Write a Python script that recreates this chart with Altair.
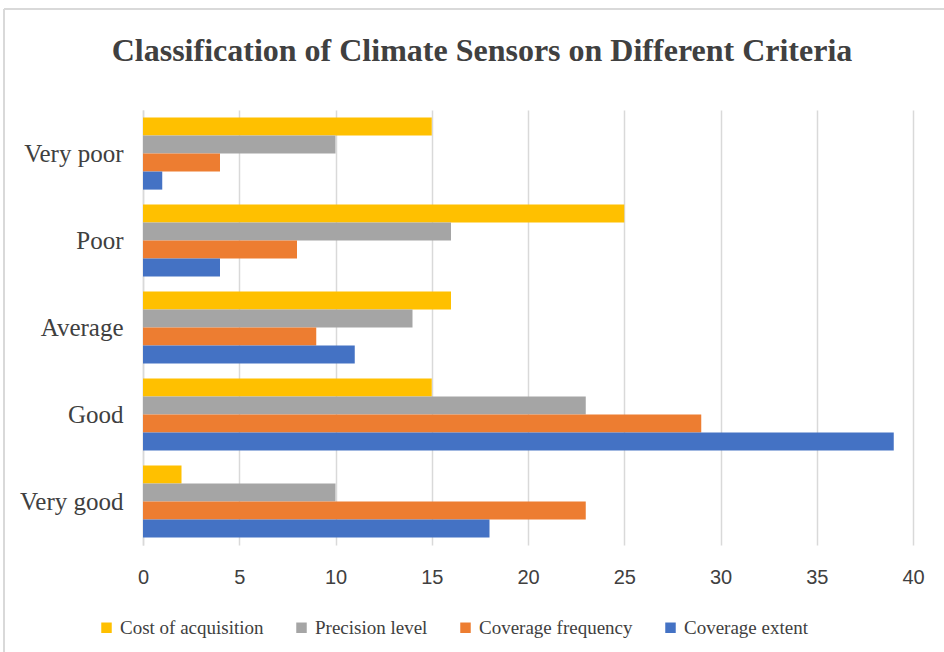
import altair as alt
import pandas as pd

categories = ["Very poor", "Poor", "Average", "Good", "Very good"]
series = ["Cost of acquisition", "Precision level", "Coverage frequency", "Coverage extent"]
cost = [15, 25, 16, 15, 2]
precision = [10, 16, 14, 23, 10]
frequency = [4, 8, 9, 29, 23]
extent = [1, 4, 11, 39, 18]
colors = ["#FFC000", "#A5A5A5", "#ED7D31", "#4472C4"]

rows = []
for s, vals in zip(series, [cost, precision, frequency, extent]):
    for c, v in zip(categories, vals):
        rows.append({"Category": c, "Series": s, "Value": v})
df = pd.DataFrame(rows)

bars = alt.Chart(df).mark_bar().encode(
    y=alt.Y("Category:N", sort=categories,
            scale=alt.Scale(paddingInner=0.17, paddingOuter=0.085),
            axis=alt.Axis(title=None, ticks=False, labelPadding=20, labelFont="Liberation Serif",
                          labelFontSize=25, labelColor="#404040", domain=True,
                          domainColor="#d9d9d9", domainWidth=1.5, grid=False)),
    yOffset=alt.YOffset("Series:N", sort=series, scale=alt.Scale(paddingInner=0, paddingOuter=0)),
    x=alt.X("Value:Q", scale=alt.Scale(domain=[0, 40], nice=False),
            axis=alt.Axis(title=None, values=list(range(0, 41, 5)), ticks=False, domain=False,
                          labelFlush=False,
                          labelPadding=22, labelFont="Liberation Sans", labelFontSize=20,
                          labelColor="#404040", gridColor="#d9d9d9", gridWidth=1.5)),
    color=alt.Color("Series:N", sort=series,
                    scale=alt.Scale(domain=series, range=colors),
                    legend=alt.Legend(title=None, orient="none", legendX=-46, legendY=508,
                                      direction="horizontal", columns=4, symbolType="square",
                                      symbolSize=110, symbolStrokeWidth=0, labelFont="Liberation Serif",
                                      labelFontSize=19, labelColor="#404040", columnPadding=28,
                                      labelOffset=4)),
)

frame_top = alt.Chart(df).mark_rule(color="#d9d9d9", strokeWidth=2).encode(
    x=alt.value(-139), x2=alt.value(801), y=alt.value(-101)
)
frame_left = alt.Chart(df).mark_rule(color="#d9d9d9", strokeWidth=2).encode(
    x=alt.value(-139), y=alt.value(-101), y2=alt.value(542)
)

chart = alt.layer(bars, frame_top, frame_left).properties(
    width=770,
    height=435,
    title=alt.TitleParams("Classification of Climate Sensors on Different Criteria",
                          font="Liberation Serif", fontSize=32, fontWeight="bold",
                          color="#404040", anchor="middle", frame="group", dx=-46, offset=-60),
    autosize=alt.AutoSizeParams(type="none"),
    padding={"left": 143, "top": 110, "right": 31, "bottom": 107},
).configure(background="white").configure_view(stroke=None)

chart.save("out.html", embed_options={"renderer": "svg", "actions": False})
